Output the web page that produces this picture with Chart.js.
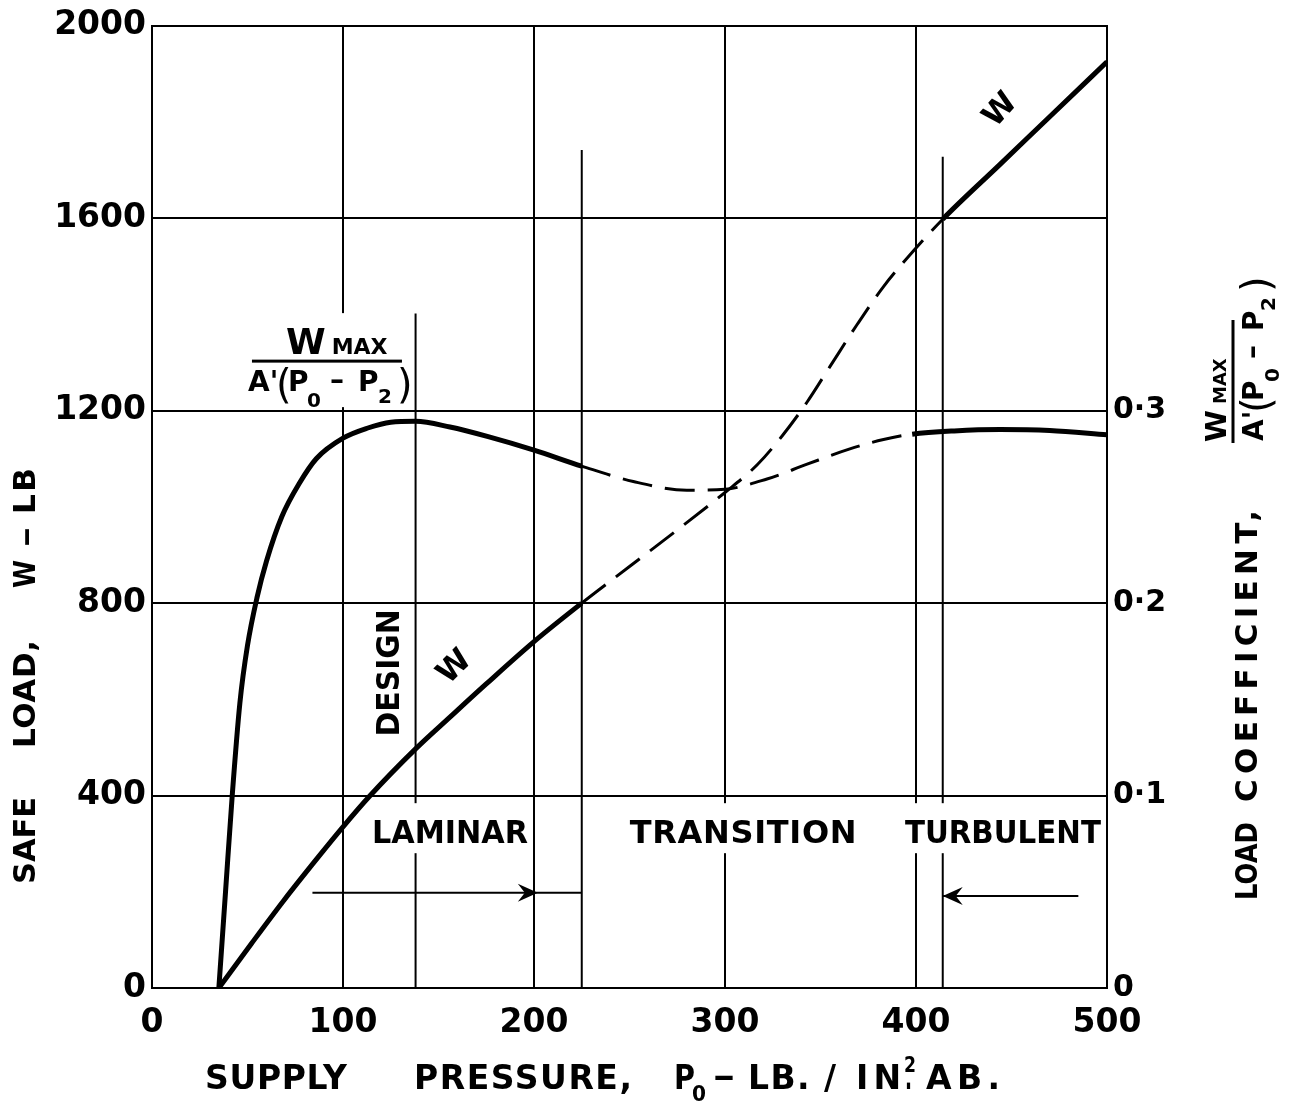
<!DOCTYPE html>
<html>
<head>
<meta charset="utf-8">
<script src="https://cdn.jsdelivr.net/npm/chart.js@4.4.1/dist/chart.umd.min.js"></script>
<style>
  html, body { margin: 0; padding: 0; background: #fff; }
  canvas { display: block; }
</style>
</head>
<body>
<canvas id="loadChart" width="1297" height="1102"></canvas>
<script>
// safe load W (lb) against supply pressure P0 (lb/in2 abs)
const pressureW = [35, 52, 69, 87, 100, 114, 138, 156, 175, 200, 225, 250, 274, 300, 317, 330, 343, 355, 369, 383, 400, 414, 444, 470, 500];
const safeLoad  = [0, 92, 182, 272, 335, 399, 497, 563, 632, 720, 800, 876, 949, 1030, 1088, 1148, 1218, 1292, 1378, 1458, 1538, 1598, 1712, 1811, 1925];

// load coefficient Wmax / A'(P0-P2), right axis
const pressureC = [35, 38.5, 42, 46, 50, 55, 60, 68, 77, 86, 100, 113, 125, 138, 156, 176, 200, 225, 252, 280, 300, 322, 343, 365, 383, 398, 420, 444, 470, 500];
const loadCoef  = [0, 0.05, 0.1, 0.148, 0.178, 0.203, 0.222, 0.245, 0.262, 0.275, 0.2857, 0.291, 0.294, 0.2945, 0.2915, 0.2865, 0.2795, 0.2712, 0.2632, 0.2587, 0.2592, 0.2645, 0.2722, 0.2800, 0.2850, 0.2878, 0.2895, 0.2902, 0.2897, 0.2875];

// where the curves are only estimated (dashed)
const wDashed    = [225, 414];
const coefDashed = [225, 398];

// vertical marker lines: design point, end of laminar, start of turbulent
const markerPressure = [138, 225, 414];
const markerTop      = [1402, 1742, 1728];

// flow regime arrows
const arrowFrom = [84, 485];
const arrowTo   = [225, 414];
const arrowTip  = [202, 414];
const arrowLoad = [198, 191];

// tick labels
const xTicks     = [0, 100, 200, 300, 400, 500];
const leftTicks  = [0, 400, 800, 1200, 1600, 2000];
const rightTicks = ['0', '0·1', '0·2', '0·3'];

const FONT = '"DejaVu Sans", sans-serif';

function pts(xs, ys) {
  return xs.map((x, i) => ({ x, y: ys[i] }));
}

function inRange(range) {
  return c => c.p0.parsed.x >= range[0] - 0.01 && c.p1.parsed.x <= range[1] + 0.01;
}

// draw text starting at x, stretched/squeezed to a given width
function fitText(ctx, text, x, y, width, size, weight) {
  ctx.save();
  ctx.font = (weight || 'bold') + ' ' + size + 'px ' + FONT;
  ctx.textAlign = 'left';
  ctx.textBaseline = 'alphabetic';
  const w0 = ctx.measureText(text).width;
  const n = [...text].length;
  const ls = n > 1 ? (width - w0) / (n - 1) : 0;
  if (ls < -0.5 || n === 1) {
    ctx.translate(x, y);
    ctx.scale(width / w0, 1);
    ctx.fillText(text, 0, 0);
  } else {
    ctx.letterSpacing = ls + 'px';
    ctx.fillText(text, x, y);
  }
  ctx.restore();
}

// W max over A'(P0 - P2), origin at the fraction bar
function drawFraction(ctx, barFrom, barTo, numX, numSize) {
  ctx.textAlign = 'left';
  ctx.textBaseline = 'alphabetic';
  ctx.font = 'bold ' + numSize + 'px ' + FONT;
  ctx.fillText('W', numX, -7);
  const wW = ctx.measureText('W').width;
  ctx.font = 'bold ' + Math.round(numSize * 0.62) + 'px ' + FONT;
  ctx.fillText('MAX', numX + wW + 6, -7);
  ctx.fillRect(barFrom, -1.5, barTo - barFrom, 3);
  ctx.font = 'bold 28px ' + FONT;
  ctx.fillText("A'", -79, 30);
  ctx.font = '40px ' + FONT;
  ctx.fillText('(', -51, 37);
  ctx.font = 'bold 28px ' + FONT;
  ctx.fillText('P', -39, 30);
  ctx.font = 'bold 20px ' + FONT;
  ctx.fillText('0', -20, 46);
  ctx.font = 'bold 28px ' + FONT;
  ctx.fillText('–', 3, 28);
  ctx.fillText('P', 31, 30);
  ctx.font = 'bold 20px ' + FONT;
  ctx.fillText('2', 51, 42);
  ctx.font = '40px ' + FONT;
  ctx.fillText(')', 70, 37);
}

function arrowHead(ctx, x, y, dir) {
  ctx.beginPath();
  ctx.moveTo(x, y);
  ctx.lineTo(x - dir * 20, y - 9);
  ctx.lineTo(x - dir * 13, y);
  ctx.lineTo(x - dir * 20, y + 9);
  ctx.closePath();
  ctx.fill();
}

const annotations = {
  id: 'annotations',
  afterDatasetsDraw(chart) {
    const { ctx, scales: { x, y } } = chart;
    const px = v => x.getPixelForValue(v);
    const py = v => y.getPixelForValue(v);
    ctx.save();
    ctx.fillStyle = '#000';

    // arrow heads
    arrowHead(ctx, px(arrowTip[0]), py(arrowLoad[0]), 1);
    arrowHead(ctx, px(arrowTip[1]), py(arrowLoad[1]), -1);

    // flow regime labels on white patches
    const regions = [['LAMINAR', 156, 156], ['TRANSITION', 309.5, 227], ['TURBULENT', 445.5, 196]];
    const base = py(301);
    regions.forEach(([t, cx, w]) => {
      const left = px(cx) - w / 2;
      ctx.fillStyle = '#fff';
      ctx.fillRect(left - 3, base - 40, w + 5, 50);
      ctx.fillStyle = '#000';
      fitText(ctx, t, left, base, w, 32);
    });

    // DESIGN (vertical)
    ctx.save();
    ctx.translate(px(129.5), py(656));
    ctx.rotate(-Math.PI / 2);
    fitText(ctx, 'DESIGN', -64, 0, 127, 32);
    ctx.restore();

    // W labels along the load curve
    [[158.6, 666, -0.78], [444.5, 1824, -0.84]].forEach(([vx, vy, r]) => {
      ctx.save();
      ctx.translate(px(vx), py(vy));
      ctx.rotate(r);
      ctx.font = 'bold 31px ' + FONT;
      ctx.textAlign = 'center';
      ctx.textBaseline = 'middle';
      ctx.fillText('W', 0, 0);
      ctx.restore();
    });

    // coefficient label above its curve
    const fx = px(91.6), fy = py(1303);
    ctx.fillStyle = '#fff';
    ctx.fillRect(fx - 79, fy - 48, 162, 94);
    ctx.fillStyle = '#000';
    ctx.save();
    ctx.translate(fx, fy);
    drawFraction(ctx, -75, 75, -41, 36);
    ctx.restore();
    ctx.restore();
  },
  afterDraw(chart) {
    const { ctx } = chart;
    ctx.save();
    ctx.fillStyle = '#000';

    // left axis title
    ctx.save();
    ctx.translate(35, 0);
    ctx.rotate(-Math.PI / 2);
    fitText(ctx, 'SAFE', -884, 0, 87, 31);
    fitText(ctx, 'LOAD,', -748, 0, 108, 31);
    fitText(ctx, 'W', -588, 0, 28, 31);
    fitText(ctx, '–', -547, 0, 20, 31);
    fitText(ctx, 'LB', -514, 0, 46, 31);
    ctx.restore();

    // right axis title
    ctx.save();
    ctx.translate(1257, 0);
    ctx.rotate(-Math.PI / 2);
    fitText(ctx, 'LOAD', -900, 0, 78, 31);
    fitText(ctx, 'COEFFICIENT,', -802, 0, 292, 31);
    ctx.restore();
    ctx.save();
    ctx.translate(1233, 362);
    ctx.rotate(-Math.PI / 2);
    drawFraction(ctx, -81, 42, -80, 29);
    ctx.restore();

    // x axis title
    const b = 1089;
    fitText(ctx, 'SUPPLY', 205, b, 142, 33);
    fitText(ctx, 'PRESSURE,', 414, b, 218, 33);
    fitText(ctx, 'P', 674, b, 21, 33);
    fitText(ctx, '0', 692, b + 12, 14, 22);
    fitText(ctx, '–', 713, b - 2, 22, 33);
    fitText(ctx, 'LB. /', 748, b, 88, 33);
    fitText(ctx, 'IN', 856, b, 45, 33);
    fitText(ctx, '2', 904, b - 17, 12, 21);
    fitText(ctx, '.', 905, b, 7, 33);
    fitText(ctx, 'AB.', 926, b, 74, 33);
    ctx.restore();
  }
};

const lineStyle = { borderColor: '#000', pointRadius: 0, fill: false };

const datasets = [];
markerPressure.forEach((p, i) => {
  datasets.push({ ...lineStyle, data: pts([p, p], [0, markerTop[i]]), borderWidth: 2, yAxisID: 'y' });
});
arrowFrom.forEach((p, i) => {
  datasets.push({ ...lineStyle, data: pts([p, arrowTo[i]], [arrowLoad[i], arrowLoad[i]]), borderWidth: 2, yAxisID: 'y' });
});
datasets.push({
  ...lineStyle,
  label: 'W',
  data: pts(pressureW, safeLoad),
  yAxisID: 'y',
  borderWidth: 5,
  cubicInterpolationMode: 'monotone',
  segment: {
    borderDash: c => inRange(wDashed)(c) ? [30, 13] : undefined,
    borderWidth: c => inRange(wDashed)(c) ? 3 : 5
  }
});
datasets.push({
  ...lineStyle,
  label: 'Wmax / A\'(P0-P2)',
  data: pts(pressureC, loadCoef),
  yAxisID: 'y1',
  borderWidth: 5,
  cubicInterpolationMode: 'monotone',
  segment: {
    borderDash: c => inRange(coefDashed)(c) ? [30, 13] : undefined,
    borderWidth: c => inRange(coefDashed)(c) ? 3 : 5
  }
});

const tickFont = { family: FONT, size: 33, weight: 'bold' };

new Chart(document.getElementById('loadChart'), {
  type: 'line',
  data: { datasets },
  options: {
    responsive: false,
    animation: false,
    layout: { padding: { top: 24, left: 0, right: 0, bottom: 0 } },
    plugins: { legend: { display: false }, tooltip: { enabled: false } },
    scales: {
      x: {
        type: 'linear',
        min: xTicks[0],
        max: xTicks[xTicks.length - 1],
        afterBuildTicks: s => { s.ticks = xTicks.map(v => ({ value: v })); },
        ticks: { color: '#000', font: tickFont, padding: 16, maxRotation: 0, callback: v => String(v) },
        grid: { color: '#000', lineWidth: 2, drawTicks: false },
        border: { color: '#000', width: 2 },
        afterFit: s => { s.height = 114; }
      },
      y: {
        position: 'left',
        min: leftTicks[0],
        max: leftTicks[leftTicks.length - 1],
        afterBuildTicks: s => { s.ticks = leftTicks.map(v => ({ value: v })); },
        ticks: { color: '#000', font: tickFont, padding: 6, callback: v => String(v) },
        grid: { color: '#000', lineWidth: 2, drawTicks: false },
        border: { color: '#000', width: 2 },
        afterFit: s => { s.width = 152; }
      },
      y1: {
        position: 'right',
        min: 0,
        max: 0.5,
        afterBuildTicks: s => { s.ticks = rightTicks.map((t, i) => ({ value: i / 10 })); },
        ticks: { color: '#000', font: { family: FONT, size: 30, weight: 'bold' }, padding: 6,
                 callback: (v, i) => rightTicks[i] },
        grid: { drawOnChartArea: false, drawTicks: false },
        border: { color: '#000', width: 2 },
        afterFit: s => { s.width = 190; }
      }
    }
  },
  plugins: [annotations]
});
</script>
</body>
</html>
